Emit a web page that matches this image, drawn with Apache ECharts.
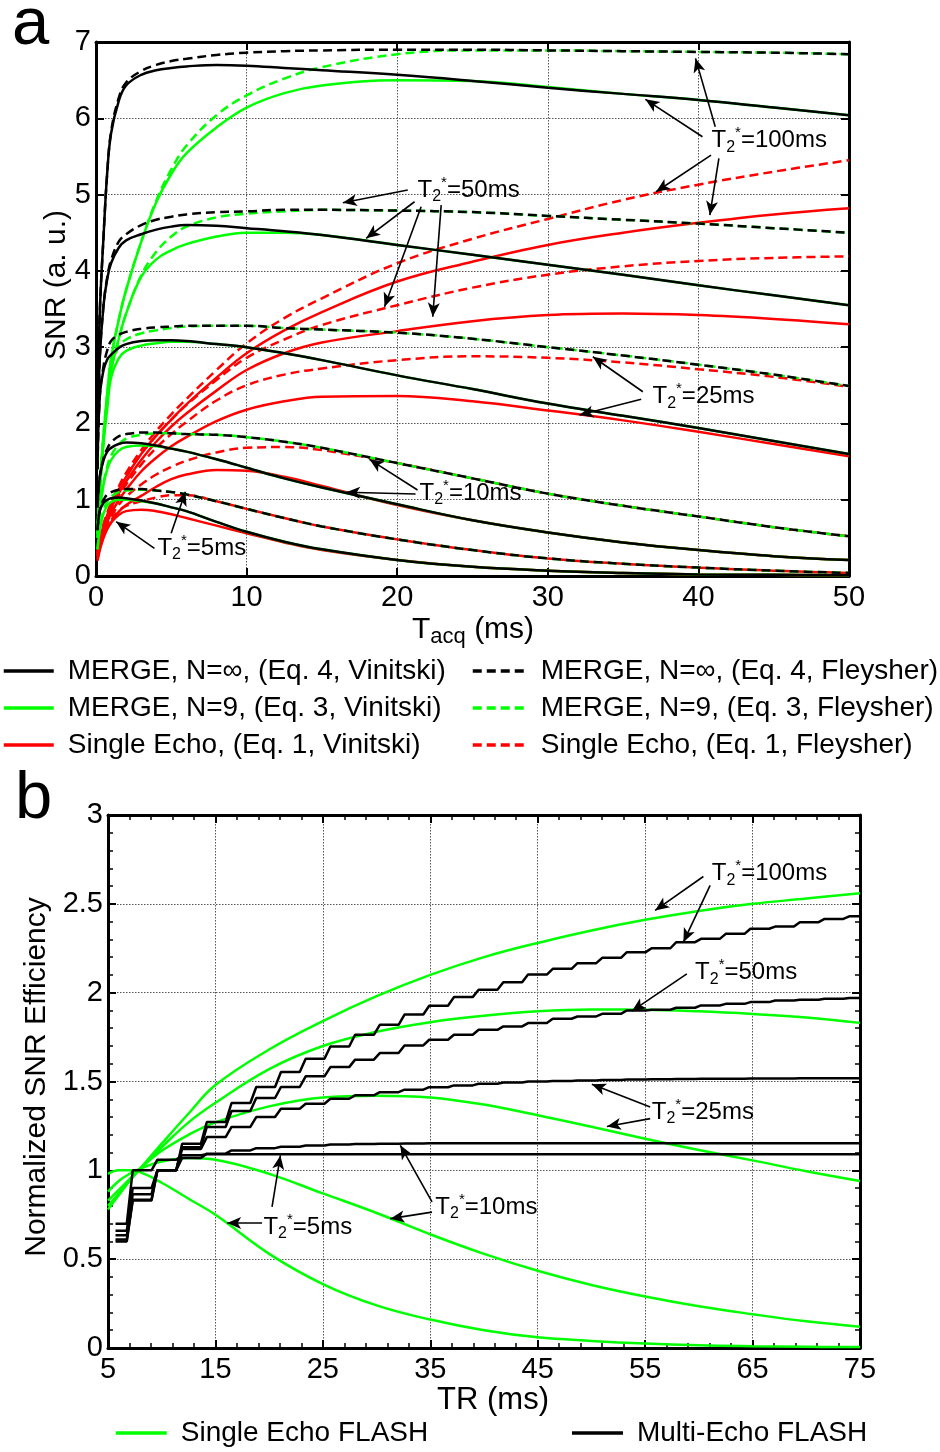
<!DOCTYPE html>
<html><head><meta charset="utf-8">
<script src="https://cdn.jsdelivr.net/npm/echarts@6.0.0/dist/echarts.min.js"></script>
<style>html,body{margin:0;padding:0;background:#fff}#c{width:940px;height:1452px}</style>
</head><body><div id="c"></div>
<script>
// ---------------- Panel a data: SNR vs T_acq ----------------
const tAcq = [0.1,0.25,0.5,0.75,1,1.5,2,3,4,5,6,8,10,12.5,15,20,25,30,35,40,45,50];
// T2* = 100 ms
const mInfV_100 = [2.2,3.45,4.45,5.3,5.8,6.22,6.43,6.57,6.63,6.66,6.68,6.70,6.69,6.66,6.63,6.57,6.49,6.40,6.32,6.24,6.14,6.04];
const mInfF_100 = [2.2,3.45,4.45,5.3,5.82,6.26,6.47,6.62,6.70,6.75,6.78,6.83,6.86,6.88,6.89,6.90,6.90,6.89,6.88,6.87,6.86,6.84];
const m9V_100   = [0.6,1.15,1.85,2.4,2.85,3.35,3.75,4.38,4.9,5.27,5.54,5.88,6.14,6.33,6.43,6.5,6.49,6.41,6.32,6.24,6.14,6.04];
const m9F_100   = [0.6,1.15,1.85,2.4,2.85,3.35,3.75,4.38,4.92,5.33,5.64,6.04,6.3,6.52,6.67,6.84,6.89,6.89,6.88,6.87,6.86,6.84];
const seV_100   = [0.3,0.47,0.66,0.8,0.93,1.13,1.3,1.6,1.84,2.05,2.25,2.6,2.92,3.22,3.46,3.86,4.12,4.34,4.5,4.63,4.74,4.82];
const seF_100   = [0.3,0.48,0.68,0.83,0.96,1.17,1.35,1.65,1.9,2.12,2.32,2.7,3.05,3.38,3.64,4.1,4.42,4.68,4.93,5.13,5.3,5.45];
// T2* = 50 ms
const mInfV_50 = [1.8,2.85,3.55,3.9,4.1,4.3,4.4,4.48,4.54,4.58,4.6,4.59,4.56,4.52,4.47,4.34,4.21,4.08,3.95,3.81,3.68,3.55];
const mInfF_50 = [1.8,2.85,3.55,3.92,4.14,4.38,4.48,4.6,4.67,4.71,4.74,4.77,4.78,4.8,4.8,4.79,4.77,4.72,4.67,4.62,4.56,4.5];
const m9V_50   = [0.6,1.15,1.8,2.3,2.7,3.1,3.44,3.92,4.15,4.27,4.35,4.45,4.5,4.5,4.47,4.34,4.21,4.08,3.95,3.81,3.68,3.55];
const m9F_50   = [0.6,1.15,1.8,2.3,2.7,3.1,3.44,3.94,4.25,4.45,4.58,4.7,4.75,4.78,4.8,4.79,4.77,4.72,4.67,4.62,4.56,4.5];
const seV_50   = [0.28,0.45,0.63,0.77,0.89,1.08,1.24,1.52,1.76,1.96,2.13,2.43,2.7,2.92,3.06,3.21,3.34,3.42,3.44,3.42,3.37,3.30];
const seF_50   = [0.3,0.47,0.66,0.8,0.93,1.13,1.3,1.6,1.84,2.05,2.24,2.57,2.86,3.1,3.29,3.55,3.78,3.95,4.06,4.13,4.17,4.19];
// T2* = 25 ms
const mInfV_25 = [1.4,2.35,2.7,2.84,2.9,2.99,3.04,3.08,3.09,3.09,3.08,3.04,3.0,2.92,2.83,2.63,2.45,2.26,2.1,1.94,1.77,1.6];
const mInfF_25 = [1.4,2.35,2.75,2.96,3.08,3.16,3.2,3.24,3.26,3.27,3.28,3.28,3.28,3.25,3.23,3.19,3.11,3.0,2.89,2.77,2.64,2.49];
const m9V_25   = [0.55,1.1,1.75,2.2,2.6,2.85,2.95,3.02,3.05,3.07,3.07,3.04,3.0,2.92,2.83,2.63,2.45,2.26,2.1,1.94,1.77,1.6];
const m9F_25   = [0.55,1.1,1.78,2.3,2.72,3.0,3.1,3.18,3.22,3.25,3.27,3.28,3.28,3.25,3.23,3.19,3.11,3.0,2.89,2.77,2.64,2.49];
const seV_25   = [0.26,0.42,0.58,0.71,0.82,0.99,1.13,1.37,1.55,1.7,1.82,2.03,2.18,2.29,2.35,2.36,2.29,2.17,2.04,1.89,1.73,1.57];
const seF_25   = [0.28,0.44,0.62,0.75,0.86,1.05,1.2,1.46,1.68,1.86,2.02,2.3,2.5,2.64,2.72,2.83,2.88,2.86,2.8,2.71,2.61,2.48];
// T2* = 10 ms
const mInfV_10 = [0.9,1.3,1.52,1.63,1.68,1.73,1.75,1.74,1.71,1.67,1.63,1.53,1.42,1.28,1.16,0.94,0.73,0.57,0.44,0.34,0.26,0.21];
const mInfF_10 = [0.9,1.3,1.54,1.67,1.75,1.83,1.86,1.88,1.88,1.87,1.86,1.85,1.82,1.76,1.68,1.48,1.28,1.08,0.92,0.78,0.64,0.52];
const m9V_10   = [0.5,0.85,1.2,1.4,1.52,1.64,1.69,1.71,1.7,1.67,1.63,1.53,1.42,1.28,1.16,0.94,0.73,0.57,0.44,0.34,0.26,0.21];
const m9F_10   = [0.5,0.85,1.22,1.44,1.58,1.72,1.8,1.85,1.87,1.87,1.86,1.85,1.82,1.76,1.68,1.48,1.28,1.08,0.92,0.78,0.64,0.52];
const seV_10   = [0.24,0.38,0.52,0.62,0.7,0.84,0.93,1.05,1.17,1.27,1.33,1.39,1.38,1.3,1.18,0.93,0.73,0.57,0.44,0.34,0.26,0.21];
const seF_10   = [0.26,0.41,0.56,0.68,0.77,0.93,1.04,1.2,1.33,1.43,1.51,1.62,1.68,1.69,1.65,1.48,1.28,1.08,0.92,0.78,0.64,0.52];
// T2* = 5 ms
const mInfV_5 = [0.6,0.85,0.96,1.0,1.02,1.03,1.02,0.99,0.95,0.9,0.85,0.71,0.58,0.45,0.35,0.21,0.12,0.07,0.04,0.02,0.015,0.01];
const mInfF_5 = [0.6,0.87,1.0,1.07,1.1,1.13,1.14,1.14,1.12,1.1,1.07,0.98,0.88,0.76,0.65,0.48,0.34,0.23,0.16,0.11,0.07,0.04];
const m9V_5   = [0.35,0.6,0.82,0.92,0.97,1.0,1.0,0.98,0.95,0.9,0.85,0.71,0.58,0.45,0.35,0.21,0.12,0.07,0.04,0.02,0.015,0.01];
const m9F_5   = [0.35,0.62,0.86,0.98,1.04,1.1,1.12,1.13,1.12,1.1,1.07,0.98,0.88,0.76,0.65,0.48,0.34,0.23,0.16,0.11,0.07,0.04];
const seV_5   = [0.2,0.34,0.5,0.62,0.7,0.8,0.85,0.87,0.85,0.81,0.76,0.66,0.56,0.44,0.34,0.21,0.12,0.07,0.04,0.02,0.015,0.01];
const seF_5   = [0.22,0.36,0.52,0.64,0.73,0.85,0.92,0.98,1.03,1.06,1.06,0.98,0.88,0.76,0.65,0.48,0.34,0.23,0.16,0.11,0.07,0.04];

// ---------------- Panel b data: normalized SNR efficiency vs TR ----------------
const trFlash = [5,6,7,8,10,12.5,15,20,25,30,35,40,45,50,55,60,65,70,75];
const flash_5   = [0.98,1.0,1.0,0.99,0.93,0.84,0.75,0.53,0.36,0.24,0.16,0.1,0.06,0.04,0.025,0.015,0.01,0.007,0.005];
const flash_10  = [0.88,0.94,0.98,1.01,1.05,1.07,1.06,0.98,0.87,0.76,0.64,0.53,0.435,0.355,0.29,0.235,0.19,0.15,0.12];
const flash_25  = [0.83,0.89,0.95,1.01,1.11,1.2,1.27,1.36,1.41,1.42,1.41,1.37,1.31,1.245,1.178,1.115,1.056,0.995,0.94];
const flash_50  = [0.8,0.87,0.94,1.01,1.13,1.27,1.38,1.57,1.70,1.78,1.834,1.87,1.895,1.905,1.904,1.895,1.88,1.86,1.83];
const flash_100 = [0.78,0.86,0.94,1.01,1.15,1.32,1.48,1.68,1.84,1.98,2.1,2.2,2.28,2.35,2.41,2.46,2.5,2.53,2.56];
// multi-echo FLASH: TR at which each plateau (new echo count) starts, and plateau levels
const stepTR = [5.7,7.3,9.6,11.9,14.2,16.5,18.8,21.1,23.4,25.7,28.0,30.3,32.6,34.9,37.2,39.5,41.8,44.1,46.4,48.7,51.0,53.3,55.6,57.9,60.2,62.5,64.8,67.1,69.4,71.7,74.0];
const multi_5   = [0.70,1.0,1.06,1.085,1.09,1.09,1.09,1.09,1.09,1.09,1.09,1.09,1.09,1.09,1.09,1.09,1.09,1.09,1.09,1.09,1.09,1.09,1.09,1.09,1.09,1.09,1.09,1.09,1.09,1.09,1.09];
const multi_10  = [0.66,0.90,1.0,1.07,1.094,1.112,1.125,1.133,1.14,1.145,1.148,1.15,1.151,1.152,1.153,1.153,1.153,1.153,1.153,1.153,1.153,1.153,1.153,1.153,1.153,1.153,1.153,1.153,1.153,1.153,1.153];
const multi_25  = [0.634,0.865,1.0,1.12,1.187,1.244,1.30,1.347,1.375,1.403,1.422,1.44,1.454,1.468,1.478,1.487,1.494,1.5,1.503,1.506,1.509,1.511,1.513,1.514,1.515,1.516,1.517,1.517,1.518,1.518,1.518];
const multi_50  = [0.61,0.835,1.0,1.13,1.244,1.334,1.407,1.469,1.529,1.581,1.623,1.66,1.703,1.735,1.763,1.791,1.81,1.829,1.853,1.866,1.881,1.9,1.904,1.915,1.928,1.937,1.947,1.956,1.96,1.966,1.97];
const multi_100 = [0.60,0.83,1.0,1.15,1.272,1.379,1.469,1.553,1.628,1.697,1.763,1.819,1.877,1.926,1.975,2.016,2.059,2.102,2.134,2.166,2.196,2.228,2.25,2.284,2.303,2.331,2.36,2.372,2.397,2.415,2.43];

// tick labels
const xTicksA = [0,10,20,30,40,50];
const yTicksA = [0,1,2,3,4,5,6,7];
const xTicksB = [5,15,25,35,45,55,65,75];
const yTicksB = [0,0.5,1,1.5,2,2.5,3];

// annotations (data coordinates): arrow [tailX, tailY, tipX, tipY], label [x, y, T2*]
const arrowsA = [[40.27,5.758,36.48,6.248],[41.12,5.889,39.81,6.785],[40.84,5.518,37.19,5.037],[41.36,5.474,40.76,4.731],
  [20.7,5.059,16.39,4.893],[21.15,4.906,17.94,4.426],[21.59,4.84,19.16,3.53],[22.92,4.862,22.36,3.398],
  [36.31,2.415,32.99,2.874],[36.2,2.316,32.1,2.11],
  [21.35,1.127,18.16,1.529],[21.22,1.075,16.61,1.097],
  [3.88,0.363,1.34,0.712],[4.99,0.56,5.94,1.105]];
const labelsA = [[40.87,5.714,'100'],[21.35,5.059,'50'],[36.95,2.35,'25'],[21.48,1.088,'10'],[4.08,0.367,'5']];
const arrowsB = [[60.42,2.654,55.93,2.463],[61.05,2.604,58.56,2.284],
  [58.88,2.106,53.76,1.896],
  [55.47,1.356,50.04,1.484],[55.47,1.291,51.44,1.247],
  [35.16,0.822,32.21,1.141],[35.16,0.765,31.28,0.728],
  [19.34,0.704,16.09,0.704],[20.27,0.794,21.05,1.084]];
const labelsB = [[61.2,2.67,'100'],[59.65,2.115,'50'],[55.62,1.328,'25'],[35.47,0.794,'10'],[19.47,0.681,'5']];

// ---------------- chart ----------------
const FONT = '"Liberation Sans", Arial, sans-serif';
const RED = '#ff0000', GREEN = '#00ff00', BLACK = '#000000';
const DASH = [9,5];
const N_BV = 'MERGE, N=\u221e, (Eq. 4, Vinitski)';
const N_BF = 'MERGE, N=\u221e, (Eq. 4, Fleysher)';
const N_GV = 'MERGE, N=9, (Eq. 3, Vinitski)';
const N_GF = 'MERGE, N=9, (Eq. 3, Fleysher)';
const N_RV = 'Single Echo, (Eq. 1, Vinitski)';
const N_RF = 'Single Echo, (Eq. 1, Fleysher)';
const N_SE = 'Single Echo FLASH';
const N_ME = 'Multi-Echo FLASH';

function line(name, xs, ys, color, dashed, axis, smooth) {
  return {
    type: 'line', name, xAxisIndex: axis, yAxisIndex: axis,
    data: xs.map((x, i) => [x, ys[i]]),
    symbol: 'none', showSymbol: false, smooth: smooth,
    lineStyle: { color, width: 2.5, type: dashed ? DASH : 'solid' },
    itemStyle: { color }, silent: true, animation: false
  };
}
function stairs(levels) {
  const pts = [];
  const ramp = 0.55;
  for (let k = 0; k < levels.length; k++) {
    const end = k + 1 < stepTR.length ? stepTR[k + 1] - ramp : 75;
    pts.push([stepTR[k], levels[k]]);
    pts.push([end, levels[k]]);
  }
  return pts;
}
function stairSeries(levels) {
  return {
    type: 'line', name: N_ME, xAxisIndex: 2, yAxisIndex: 2, data: stairs(levels),
    symbol: 'none', showSymbol: false, smooth: false,
    lineStyle: { color: BLACK, width: 2.5 }, itemStyle: { color: BLACK }, silent: true, animation: false
  };
}

const A = 0, B = 2;
const groupsA = [
  [seV_100, seF_100, m9V_100, m9F_100, mInfV_100, mInfF_100],
  [seV_50, seF_50, m9V_50, m9F_50, mInfV_50, mInfF_50],
  [seV_25, seF_25, m9V_25, m9F_25, mInfV_25, mInfF_25],
  [seV_10, seF_10, m9V_10, m9F_10, mInfV_10, mInfF_10],
  [seV_5, seF_5, m9V_5, m9F_5, mInfV_5, mInfF_5]
];
const series = [];
const SM = 0.4;
groupsA.forEach(g => { series.push(line(N_RV, tAcq, g[0], RED, false, A, SM)); series.push(line(N_RF, tAcq, g[1], RED, true, A, SM)); });
groupsA.forEach(g => { series.push(line(N_GV, tAcq, g[2], GREEN, false, A, SM)); series.push(line(N_GF, tAcq, g[3], GREEN, true, A, SM)); });
groupsA.forEach(g => { series.push(line(N_BF, tAcq, g[5], BLACK, true, A, SM)); series.push(line(N_BV, tAcq, g[4], BLACK, false, A, SM)); });
series[series.length - 1].markLine = {
  silent: true, animation: false, symbol: ['none', 'arrow'], symbolSize: [9, 14], precision: 4,
  lineStyle: { color: BLACK, width: 1.6, type: 'solid' }, label: { show: false }, emphasis: { disabled: true },
  data: arrowsA.map(a => [{ coord: [a[0], a[1]] }, { coord: [a[2], a[3]] }])
};
[flash_5, flash_10, flash_25, flash_50, flash_100].forEach(f => series.push(line(N_SE, trFlash, f, GREEN, false, B, 0.4)));
[multi_5, multi_10, multi_25, multi_50, multi_100].forEach(m => series.push(stairSeries(m)));
series[series.length - 1].markLine = {
  silent: true, animation: false, symbol: ['none', 'arrow'], symbolSize: [9, 14], precision: 4,
  lineStyle: { color: BLACK, width: 1.6, type: 'solid' }, label: { show: false }, emphasis: { disabled: true },
  data: arrowsB.map(a => [{ coord: [a[0], a[1]] }, { coord: [a[2], a[3]] }])
};

const axisLineS = { show: true, onZero: false, lineStyle: { color: BLACK, width: 3 } };
const tickS = { show: true, inside: true, length: 8, lineStyle: { color: BLACK, width: 2 } };
const minorS = { show: true, splitNumber: 5, length: 5, lineStyle: { color: BLACK, width: 1.5 } };
const gridLineS = { show: true, lineStyle: { color: '#555', width: 1, type: [1.5, 1.5] } };
const labelS = { show: true, color: BLACK, fontFamily: FONT, fontSize: 29 };

function valAxis(grid, pos, ticks, main, minor) {
  return {
    type: 'value', gridIndex: grid, position: pos,
    min: ticks[0], max: ticks[ticks.length - 1], interval: ticks[1] - ticks[0],
    axisLine: axisLineS, axisTick: tickS,
    minorTick: minor ? minorS : { show: false },
    axisLabel: main ? Object.assign({}, labelS, { margin: (pos === 'bottom') ? 7 : 5, showMinLabel: true, showMaxLabel: true }) : { show: false },
    splitLine: main ? gridLineS : { show: false },
    silent: true
  };
}

const legendText = { fontFamily: FONT, fontSize: 28, color: BLACK, lineHeight: 30, padding: [0, 0, 0, 9] };
const legendItem = { color: 'rgba(0,0,0,0)', borderColor: 'rgba(0,0,0,0)', borderWidth: 0, opacity: 0 };
const option = {
  backgroundColor: '#ffffff',
  animation: false,
  grid: [
    { left: 96, top: 42, width: 753, height: 534 },
    { left: 108, top: 815, width: 752, height: 533 }
  ],
  xAxis: [
    valAxis(0, 'bottom', xTicksA, true, false),
    valAxis(0, 'top', xTicksA, false, false),
    valAxis(1, 'bottom', xTicksB, true, true),
    valAxis(1, 'top', xTicksB, false, true)
  ],
  yAxis: [
    valAxis(0, 'left', yTicksA, true, false),
    valAxis(0, 'right', yTicksA, false, false),
    valAxis(1, 'left', yTicksB, true, true),
    valAxis(1, 'right', yTicksB, false, true)
  ],
  legend: [
    { data: [N_BV, N_GV, N_RV], orient: 'vertical', left: 2, top: 656, padding: 0, itemWidth: 50, itemHeight: 14, itemGap: 7,
      selectedMode: false, lineStyle: { width: 3.5 }, itemStyle: legendItem, textStyle: legendText },
    { data: [N_BF, N_GF, N_RF], orient: 'vertical', left: 471, top: 656, padding: 0, itemWidth: 54, itemHeight: 14, itemGap: 7,
      selectedMode: false, lineStyle: { width: 3.5 }, itemStyle: legendItem, textStyle: legendText },
    { data: [N_SE, N_ME], orient: 'horizontal', left: 114, top: 1418, padding: 0, itemWidth: 51, itemHeight: 14, itemGap: 142,
      selectedMode: false, lineStyle: { width: 3.5 }, itemStyle: legendItem, textStyle: legendText }
  ],
  series: series
};

const chart = echarts.init(document.getElementById('c'), null, { renderer: 'canvas', width: 940, height: 1452 });
chart.setOption(option);

const rich = {
  t: { fontFamily: FONT, fontSize: 24, lineHeight: 30, color: BLACK },
  s: { fontFamily: FONT, fontSize: 16, lineHeight: 16, verticalAlign: 'bottom', color: BLACK },
  p: { fontFamily: FONT, fontSize: 15, lineHeight: 15, verticalAlign: 'top', color: BLACK }
};
function t2Text(v) { return '{t|T}{s|2}{p|*}{t|=' + v + 'ms}'; }
const graphics = [];
labelsA.forEach(l => {
  const p = chart.convertToPixel({ xAxisIndex: 0, yAxisIndex: 0 }, [l[0], l[1]]);
  graphics.push({ type: 'text', x: p[0], y: p[1], z: 100, silent: true, style: { text: t2Text(l[2]), rich, align: 'left', verticalAlign: 'middle' } });
});
labelsB.forEach(l => {
  const p = chart.convertToPixel({ xAxisIndex: 2, yAxisIndex: 2 }, [l[0], l[1]]);
  graphics.push({ type: 'text', x: p[0], y: p[1], z: 100, silent: true, style: { text: t2Text(l[2]), rich, align: 'left', verticalAlign: 'middle' } });
});
graphics.push({ type: 'text', x: 12, y: 26, silent: true, style: { text: 'a', fontFamily: FONT, fontSize: 67, fill: BLACK, align: 'left', verticalAlign: 'middle' } });
graphics.push({ type: 'text', x: 15, y: 800, silent: true, style: { text: 'b', fontFamily: FONT, fontSize: 67, fill: BLACK, align: 'left', verticalAlign: 'middle' } });
graphics.push({ type: 'text', x: 412, y: 630, silent: true, style: {
  text: '{t|T}{s|acq}{t| (ms)}', align: 'left', verticalAlign: 'middle',
  rich: { t: { fontFamily: FONT, fontSize: 30, lineHeight: 36, color: BLACK }, s: { fontFamily: FONT, fontSize: 22, lineHeight: 22, verticalAlign: 'bottom', color: BLACK } } } });
graphics.push({ type: 'text', x: 493, y: 1400, silent: true, style: { text: 'TR (ms)', fontFamily: FONT, fontSize: 31, fill: BLACK, align: 'center', verticalAlign: 'middle' } });
graphics.push({ type: 'text', x: 57, y: 285, rotation: Math.PI / 2, silent: true, style: { text: 'SNR (a. u.)', fontFamily: FONT, fontSize: 30, fill: BLACK, align: 'center', verticalAlign: 'middle' } });
graphics.push({ type: 'text', x: 37, y: 1077, rotation: Math.PI / 2, silent: true, style: { text: 'Normalized SNR Efficiency', fontFamily: FONT, fontSize: 30, fill: BLACK, align: 'center', verticalAlign: 'middle' } });
chart.setOption({ graphic: graphics });
</script></body></html>
